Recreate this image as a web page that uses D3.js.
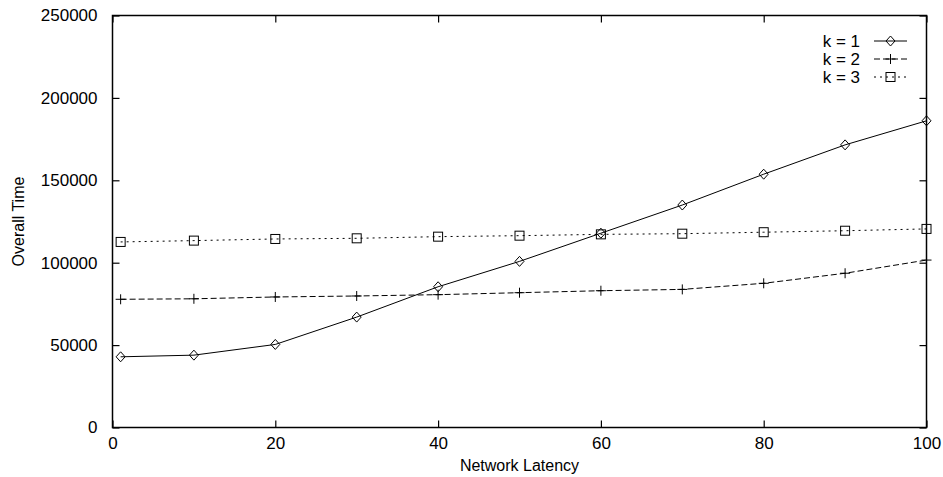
<!DOCTYPE html>
<html>
<head>
<meta charset="utf-8">
<script src="https://cdn.jsdelivr.net/npm/d3@7"></script>
<style>
  html, body { margin: 0; padding: 0; background: #fff; }
  svg { display: block; }
  text { font-family: "Liberation Sans", Arial, Helvetica, sans-serif; fill: #000; }
</style>
</head>
<body>
<svg id="chart" width="943" height="477"></svg>
<script>
// Network latency values (x) and overall time per k
const latency = [1, 10, 20, 30, 40, 50, 60, 70, 80, 90, 100];
const timeK1 = [42900, 43900, 50400, 67000, 85400, 100800, 117900, 135000, 153700, 171500, 186100];
const timeK2 = [77800, 78100, 79200, 79800, 80600, 81800, 83000, 83800, 87500, 93600, 101600];
const timeK3 = [112600, 113400, 114400, 114800, 115800, 116400, 117200, 117600, 118500, 119400, 120500];
const seriesNames = ["k = 1", "k = 2", "k = 3"];
const xTicks = [0, 20, 40, 60, 80, 100];
const yTicks = [0, 50000, 100000, 150000, 200000, 250000];

const W = 943, H = 477;
const margin = { left: 112.5, right: 16.5, top: 15.5, bottom: 49.5 };
const svg = d3.select("#chart");

const x = d3.scaleLinear().domain([0, 100]).range([margin.left, W - margin.right]);
const y = d3.scaleLinear().domain([0, 250000]).range([H - margin.bottom, margin.top]);

const tickLen = 7;
const fontSize = 17;

// Axes with inward ticks on all four sides
const axisBottom = d3.axisBottom(x).tickValues(xTicks).tickSize(-tickLen).tickPadding(tickLen + 2).tickFormat(d3.format("d"));
const axisTop = d3.axisTop(x).tickValues(xTicks).tickSize(-tickLen).tickFormat("");
const axisLeft = d3.axisLeft(y).tickValues(yTicks).tickSize(-tickLen).tickPadding(tickLen + 8).tickFormat(d3.format("d"));
const axisRight = d3.axisRight(y).tickValues(yTicks).tickSize(-tickLen).tickFormat("");

function styleAxis(g) {
  g.select(".domain").remove();
  g.selectAll(".tick line").attr("stroke", "#000").attr("stroke-width", 1.2);
  g.selectAll(".tick text").style("font-size", fontSize + "px").attr("fill", "#000");
}

svg.append("g").attr("transform", `translate(0,${y(0)})`).call(axisBottom).call(styleAxis);
svg.append("g").attr("transform", `translate(0,${y(250000)})`).call(axisTop).call(styleAxis);
svg.append("g").attr("transform", `translate(${x(0)},0)`).call(axisLeft).call(styleAxis);
svg.append("g").attr("transform", `translate(${x(100)},0)`).call(axisRight).call(styleAxis);

// Plot frame
svg.append("rect")
  .attr("x", x(0)).attr("y", y(250000))
  .attr("width", x(100) - x(0)).attr("height", y(0) - y(250000))
  .attr("fill", "none").attr("stroke", "#000").attr("stroke-width", 1.5);

// Axis titles
svg.append("text")
  .attr("x", (x(0) + x(100)) / 2).attr("y", 471)
  .attr("text-anchor", "middle").style("font-size", "16px")
  .text("Network Latency");
svg.append("text")
  .attr("transform", `translate(24,${(y(0) + y(250000)) / 2}) rotate(-90)`)
  .attr("text-anchor", "middle").style("font-size", "16px")
  .text("Overall Time");

// Series definitions
const series = [
  { name: seriesNames[0], values: timeK1, dash: null, marker: "diamond" },
  { name: seriesNames[1], values: timeK2, dash: "6,3", marker: "plus" },
  { name: seriesNames[2], values: timeK3, dash: "2,4", marker: "square" }
];

const line = d3.line().x(d => x(d[0])).y(d => y(d[1]));

function drawMarker(g, type, cx, cy) {
  if (type === "diamond") {
    g.append("path")
      .attr("d", `M${cx},${cy - 5}L${cx + 4.5},${cy}L${cx},${cy + 5}L${cx - 4.5},${cy}Z`)
      .attr("fill", "none").attr("stroke", "#000").attr("stroke-width", 1);
  } else if (type === "plus") {
    g.append("path")
      .attr("d", `M${cx - 5},${cy}H${cx + 5}M${cx},${cy - 5}V${cy + 5}`)
      .attr("fill", "none").attr("stroke", "#000").attr("stroke-width", 1);
  } else {
    g.append("rect")
      .attr("x", cx - 4.5).attr("y", cy - 4.5).attr("width", 9).attr("height", 9)
      .attr("fill", "none").attr("stroke", "#000").attr("stroke-width", 1);
  }
}

series.forEach(s => {
  const pts = latency.map((l, i) => [l, s.values[i]]);
  const g = svg.append("g");
  g.append("path")
    .attr("d", line(pts))
    .attr("fill", "none").attr("stroke", "#000").attr("stroke-width", 1)
    .attr("stroke-dasharray", s.dash);
  pts.forEach(p => drawMarker(g, s.marker, x(p[0]), y(p[1])));
});

// Legend
const legend = svg.append("g");
series.forEach((s, i) => {
  const cy = 41 + i * 18;
  legend.append("text")
    .attr("x", 860).attr("y", cy + 6)
    .attr("text-anchor", "end").style("font-size", fontSize + "px")
    .text(s.name);
  legend.append("line")
    .attr("x1", 874).attr("x2", 907).attr("y1", cy).attr("y2", cy)
    .attr("stroke", "#000").attr("stroke-width", 1)
    .attr("stroke-dasharray", s.dash);
  drawMarker(legend, s.marker, 890.5, cy);
});
</script>
</body>
</html>
